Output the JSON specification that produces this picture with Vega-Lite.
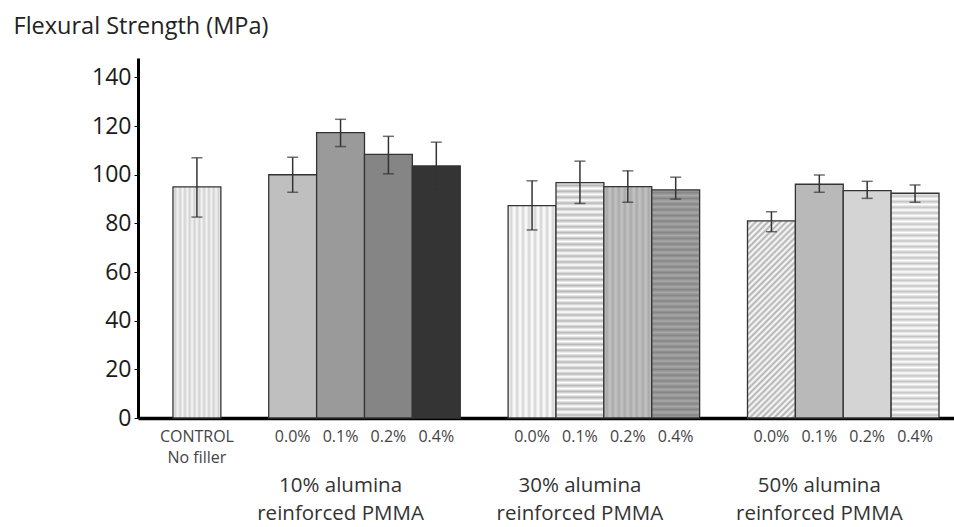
{
  "$schema": "https://vega.github.io/schema/vega-lite/v6.json",
  "autosize": "none",
  "width": 816,
  "height": 360,
  "padding": {"left": 138, "top": 58, "right": 0, "bottom": 109},
  "background": "#ffffff",
  "config": {
    "view": {"stroke": null},
    "font": "Open Sans",
    "axis": {"grid": false}
  },
  "data": {
    "values": [
      {"slot": "C|CONTROL", "mean": 95, "lo": 82.6, "hi": 107},
      {"slot": "10|0.0%", "mean": 100, "lo": 92.8, "hi": 107.2},
      {"slot": "10|0.1%", "mean": 117.3, "lo": 111.6, "hi": 122.8},
      {"slot": "10|0.2%", "mean": 108.4, "lo": 100.4, "hi": 115.8},
      {"slot": "10|0.4%", "mean": 103.6, "lo": 93.8, "hi": 113.4},
      {"slot": "30|0.0%", "mean": 87.3, "lo": 77.3, "hi": 97.5},
      {"slot": "30|0.1%", "mean": 96.8, "lo": 88.2, "hi": 105.6},
      {"slot": "30|0.2%", "mean": 95.1, "lo": 88.7, "hi": 101.6},
      {"slot": "30|0.4%", "mean": 93.8, "lo": 90, "hi": 99},
      {"slot": "50|0.0%", "mean": 81, "lo": 76.6, "hi": 84.8},
      {"slot": "50|0.1%", "mean": 96.1, "lo": 92.8, "hi": 99.9},
      {"slot": "50|0.2%", "mean": 93.5, "lo": 90.3, "hi": 97.3},
      {"slot": "50|0.4%", "mean": 92.4, "lo": 88.7, "hi": 95.8}
    ]
  },
  "resolve": {"axis": {"x": "independent"}},
  "layer": [
    {
      "mark": {"type": "bar", "stroke": "#333333", "strokeWidth": 1.3},
      "encoding": {
        "x": {
          "field": "slot", "type": "nominal", "title": null,
          "scale": {
            "domain": ["C|CONTROL", "S1|", "10|0.0%", "10|0.1%", "10|0.2%", "10|0.4%", "S2|", "30|0.0%", "30|0.1%", "30|0.2%", "30|0.4%", "S3|", "50|0.0%", "50|0.1%", "50|0.2%", "50|0.4%"],
            "paddingInner": 0, "paddingOuter": 0.522, "align": 0.7
          },
          "axis": {
            "orient": "bottom",
            "labelExpr": "datum.value == 'C|CONTROL' ? ['CONTROL', 'No filler'] : split(datum.value, '|')[1]",
            "labelAngle": 0, "labelFontSize": 16, "labelColor": "#444444", "labelPadding": 10,
            "labelBaseline": "top", "labelLineHeight": 21, "labelOverlap": false, "labelBound": false,
            "ticks": false, "tickSize": 0, "domainColor": "#000000", "domainWidth": 3.5
          }
        },
        "y": {
          "field": "mean", "type": "quantitative", "title": "Flexural Strength (MPa)",
          "scale": {"domain": [0, 148], "nice": false},
          "axis": {
            "values": [0, 20, 40, 60, 80, 100, 120, 140],
            "labelFontSize": 23, "labelColor": "#1a1a1a", "labelPadding": 3,
            "tickSize": 4, "tickColor": "#000000", "tickWidth": 1,
            "domainColor": "#000000", "domainWidth": 3,
            "titleAngle": 0, "titleAlign": "left", "titleBaseline": "middle",
            "titleX": -125, "titleY": -32, "titleFontSize": 23.5, "titleFontWeight": "normal", "titleColor": "#222222"
          }
        },
        "fill": {
          "condition": [
            {"test": "datum.slot == 'C|CONTROL'", "value": {"gradient": "linear", "x1": 0, "y1": 0, "x2": 1, "y2": 0, "stops": [
              {"offset": 0, "color": "#f4f4f4"}, {"offset": 0.05, "color": "#d2d2d2"}, {"offset": 0.1, "color": "#f4f4f4"}, {"offset": 0.15, "color": "#d2d2d2"}, {"offset": 0.2, "color": "#f4f4f4"}, {"offset": 0.25, "color": "#d2d2d2"}, {"offset": 0.3, "color": "#f4f4f4"}, {"offset": 0.35, "color": "#d2d2d2"}, {"offset": 0.4, "color": "#f4f4f4"}, {"offset": 0.45, "color": "#d2d2d2"}, {"offset": 0.5, "color": "#f4f4f4"}, {"offset": 0.55, "color": "#d2d2d2"}, {"offset": 0.6, "color": "#f4f4f4"}, {"offset": 0.65, "color": "#d2d2d2"}, {"offset": 0.7, "color": "#f4f4f4"}, {"offset": 0.75, "color": "#d2d2d2"}, {"offset": 0.8, "color": "#f4f4f4"}, {"offset": 0.85, "color": "#d2d2d2"}, {"offset": 0.9, "color": "#f4f4f4"}, {"offset": 0.95, "color": "#d2d2d2"}, {"offset": 1, "color": "#f4f4f4"}]}},
            {"test": "datum.slot == '10|0.0%'", "value": "#bfbfbf"},
            {"test": "datum.slot == '10|0.1%'", "value": "#9a9a9a"},
            {"test": "datum.slot == '10|0.2%'", "value": "#858585"},
            {"test": "datum.slot == '10|0.4%'", "value": "#343434"},
            {"test": "datum.slot == '30|0.0%'", "value": {"gradient": "linear", "x1": 0, "y1": 0, "x2": 1, "y2": 0, "stops": [
              {"offset": 0, "color": "#ffffff"}, {"offset": 0.0625, "color": "#d4d4d4"}, {"offset": 0.125, "color": "#ffffff"}, {"offset": 0.1875, "color": "#d4d4d4"}, {"offset": 0.25, "color": "#ffffff"}, {"offset": 0.3125, "color": "#d4d4d4"}, {"offset": 0.375, "color": "#ffffff"}, {"offset": 0.4375, "color": "#d4d4d4"}, {"offset": 0.5, "color": "#ffffff"}, {"offset": 0.5625, "color": "#d4d4d4"}, {"offset": 0.625, "color": "#ffffff"}, {"offset": 0.6875, "color": "#d4d4d4"}, {"offset": 0.75, "color": "#ffffff"}, {"offset": 0.8125, "color": "#d4d4d4"}, {"offset": 0.875, "color": "#ffffff"}, {"offset": 0.9375, "color": "#d4d4d4"}, {"offset": 1, "color": "#ffffff"}]}},
            {"test": "datum.slot == '30|0.1%'", "value": {"gradient": "linear", "x1": 0, "y1": 0, "x2": 0, "y2": 1, "stops": [
              {"offset":0,"color":"#ffffff"},{"offset":0.0125,"color":"#b8b8b8"},{"offset":0.025,"color":"#ffffff"},{"offset":0.0375,"color":"#b8b8b8"},{"offset":0.05,"color":"#ffffff"},{"offset":0.0625,"color":"#b8b8b8"},{"offset":0.075,"color":"#ffffff"},{"offset":0.0875,"color":"#b8b8b8"},{"offset":0.1,"color":"#ffffff"},{"offset":0.1125,"color":"#b8b8b8"},{"offset":0.125,"color":"#ffffff"},{"offset":0.1375,"color":"#b8b8b8"},{"offset":0.15,"color":"#ffffff"},{"offset":0.1625,"color":"#b8b8b8"},{"offset":0.175,"color":"#ffffff"},{"offset":0.1875,"color":"#b8b8b8"},{"offset":0.2,"color":"#ffffff"},{"offset":0.2125,"color":"#b8b8b8"},{"offset":0.225,"color":"#ffffff"},{"offset":0.2375,"color":"#b8b8b8"},{"offset":0.25,"color":"#ffffff"},{"offset":0.2625,"color":"#b8b8b8"},{"offset":0.275,"color":"#ffffff"},{"offset":0.2875,"color":"#b8b8b8"},{"offset":0.3,"color":"#ffffff"},{"offset":0.3125,"color":"#b8b8b8"},{"offset":0.325,"color":"#ffffff"},{"offset":0.3375,"color":"#b8b8b8"},{"offset":0.35,"color":"#ffffff"},{"offset":0.3625,"color":"#b8b8b8"},{"offset":0.375,"color":"#ffffff"},{"offset":0.3875,"color":"#b8b8b8"},{"offset":0.4,"color":"#ffffff"},{"offset":0.4125,"color":"#b8b8b8"},{"offset":0.425,"color":"#ffffff"},{"offset":0.4375,"color":"#b8b8b8"},{"offset":0.45,"color":"#ffffff"},{"offset":0.4625,"color":"#b8b8b8"},{"offset":0.475,"color":"#ffffff"},{"offset":0.4875,"color":"#b8b8b8"},{"offset":0.5,"color":"#ffffff"},{"offset":0.5125,"color":"#b8b8b8"},{"offset":0.525,"color":"#ffffff"},{"offset":0.5375,"color":"#b8b8b8"},{"offset":0.55,"color":"#ffffff"},{"offset":0.5625,"color":"#b8b8b8"},{"offset":0.575,"color":"#ffffff"},{"offset":0.5875,"color":"#b8b8b8"},{"offset":0.6,"color":"#ffffff"},{"offset":0.6125,"color":"#b8b8b8"},{"offset":0.625,"color":"#ffffff"},{"offset":0.6375,"color":"#b8b8b8"},{"offset":0.65,"color":"#ffffff"},{"offset":0.6625,"color":"#b8b8b8"},{"offset":0.675,"color":"#ffffff"},{"offset":0.6875,"color":"#b8b8b8"},{"offset":0.7,"color":"#ffffff"},{"offset":0.7125,"color":"#b8b8b8"},{"offset":0.725,"color":"#ffffff"},{"offset":0.7375,"color":"#b8b8b8"},{"offset":0.75,"color":"#ffffff"},{"offset":0.7625,"color":"#b8b8b8"},{"offset":0.775,"color":"#ffffff"},{"offset":0.7875,"color":"#b8b8b8"},{"offset":0.8,"color":"#ffffff"},{"offset":0.8125,"color":"#b8b8b8"},{"offset":0.825,"color":"#ffffff"},{"offset":0.8375,"color":"#b8b8b8"},{"offset":0.85,"color":"#ffffff"},{"offset":0.8625,"color":"#b8b8b8"},{"offset":0.875,"color":"#ffffff"},{"offset":0.8875,"color":"#b8b8b8"},{"offset":0.9,"color":"#ffffff"},{"offset":0.9125,"color":"#b8b8b8"},{"offset":0.925,"color":"#ffffff"},{"offset":0.9375,"color":"#b8b8b8"},{"offset":0.95,"color":"#ffffff"},{"offset":0.9625,"color":"#b8b8b8"},{"offset":0.975,"color":"#ffffff"},{"offset":0.9875,"color":"#b8b8b8"},{"offset":1,"color":"#ffffff"}]}},
            {"test": "datum.slot == '30|0.2%'", "value": {"gradient": "linear", "x1": 0, "y1": 0, "x2": 1, "y2": 0, "stops": [
              {"offset": 0, "color": "#c4c4c4"}, {"offset": 0.0625, "color": "#a9a9a9"}, {"offset": 0.125, "color": "#c4c4c4"}, {"offset": 0.1875, "color": "#a9a9a9"}, {"offset": 0.25, "color": "#c4c4c4"}, {"offset": 0.3125, "color": "#a9a9a9"}, {"offset": 0.375, "color": "#c4c4c4"}, {"offset": 0.4375, "color": "#a9a9a9"}, {"offset": 0.5, "color": "#c4c4c4"}, {"offset": 0.5625, "color": "#a9a9a9"}, {"offset": 0.625, "color": "#c4c4c4"}, {"offset": 0.6875, "color": "#a9a9a9"}, {"offset": 0.75, "color": "#c4c4c4"}, {"offset": 0.8125, "color": "#a9a9a9"}, {"offset": 0.875, "color": "#c4c4c4"}, {"offset": 0.9375, "color": "#a9a9a9"}, {"offset": 1, "color": "#c4c4c4"}]}},
            {"test": "datum.slot == '30|0.4%'", "value": {"gradient": "linear", "x1": 0, "y1": 0, "x2": 0, "y2": 1, "stops": [
              {"offset":0,"color":"#a8a8a8"},{"offset":0.0125,"color":"#858585"},{"offset":0.025,"color":"#a8a8a8"},{"offset":0.0375,"color":"#858585"},{"offset":0.05,"color":"#a8a8a8"},{"offset":0.0625,"color":"#858585"},{"offset":0.075,"color":"#a8a8a8"},{"offset":0.0875,"color":"#858585"},{"offset":0.1,"color":"#a8a8a8"},{"offset":0.1125,"color":"#858585"},{"offset":0.125,"color":"#a8a8a8"},{"offset":0.1375,"color":"#858585"},{"offset":0.15,"color":"#a8a8a8"},{"offset":0.1625,"color":"#858585"},{"offset":0.175,"color":"#a8a8a8"},{"offset":0.1875,"color":"#858585"},{"offset":0.2,"color":"#a8a8a8"},{"offset":0.2125,"color":"#858585"},{"offset":0.225,"color":"#a8a8a8"},{"offset":0.2375,"color":"#858585"},{"offset":0.25,"color":"#a8a8a8"},{"offset":0.2625,"color":"#858585"},{"offset":0.275,"color":"#a8a8a8"},{"offset":0.2875,"color":"#858585"},{"offset":0.3,"color":"#a8a8a8"},{"offset":0.3125,"color":"#858585"},{"offset":0.325,"color":"#a8a8a8"},{"offset":0.3375,"color":"#858585"},{"offset":0.35,"color":"#a8a8a8"},{"offset":0.3625,"color":"#858585"},{"offset":0.375,"color":"#a8a8a8"},{"offset":0.3875,"color":"#858585"},{"offset":0.4,"color":"#a8a8a8"},{"offset":0.4125,"color":"#858585"},{"offset":0.425,"color":"#a8a8a8"},{"offset":0.4375,"color":"#858585"},{"offset":0.45,"color":"#a8a8a8"},{"offset":0.4625,"color":"#858585"},{"offset":0.475,"color":"#a8a8a8"},{"offset":0.4875,"color":"#858585"},{"offset":0.5,"color":"#a8a8a8"},{"offset":0.5125,"color":"#858585"},{"offset":0.525,"color":"#a8a8a8"},{"offset":0.5375,"color":"#858585"},{"offset":0.55,"color":"#a8a8a8"},{"offset":0.5625,"color":"#858585"},{"offset":0.575,"color":"#a8a8a8"},{"offset":0.5875,"color":"#858585"},{"offset":0.6,"color":"#a8a8a8"},{"offset":0.6125,"color":"#858585"},{"offset":0.625,"color":"#a8a8a8"},{"offset":0.6375,"color":"#858585"},{"offset":0.65,"color":"#a8a8a8"},{"offset":0.6625,"color":"#858585"},{"offset":0.675,"color":"#a8a8a8"},{"offset":0.6875,"color":"#858585"},{"offset":0.7,"color":"#a8a8a8"},{"offset":0.7125,"color":"#858585"},{"offset":0.725,"color":"#a8a8a8"},{"offset":0.7375,"color":"#858585"},{"offset":0.75,"color":"#a8a8a8"},{"offset":0.7625,"color":"#858585"},{"offset":0.775,"color":"#a8a8a8"},{"offset":0.7875,"color":"#858585"},{"offset":0.8,"color":"#a8a8a8"},{"offset":0.8125,"color":"#858585"},{"offset":0.825,"color":"#a8a8a8"},{"offset":0.8375,"color":"#858585"},{"offset":0.85,"color":"#a8a8a8"},{"offset":0.8625,"color":"#858585"},{"offset":0.875,"color":"#a8a8a8"},{"offset":0.8875,"color":"#858585"},{"offset":0.9,"color":"#a8a8a8"},{"offset":0.9125,"color":"#858585"},{"offset":0.925,"color":"#a8a8a8"},{"offset":0.9375,"color":"#858585"},{"offset":0.95,"color":"#a8a8a8"},{"offset":0.9625,"color":"#858585"},{"offset":0.975,"color":"#a8a8a8"},{"offset":0.9875,"color":"#858585"},{"offset":1,"color":"#a8a8a8"}]}},
            {"test": "datum.slot == '50|0.0%'", "value": {"gradient": "linear", "x1": 0, "y1": 0, "x2": 0.2854, "y2": 1.1738, "stops": [
              {"offset":0,"color":"#ffffff"},{"offset":0.0125,"color":"#b0b0b0"},{"offset":0.025,"color":"#ffffff"},{"offset":0.0375,"color":"#b0b0b0"},{"offset":0.05,"color":"#ffffff"},{"offset":0.0625,"color":"#b0b0b0"},{"offset":0.075,"color":"#ffffff"},{"offset":0.0875,"color":"#b0b0b0"},{"offset":0.1,"color":"#ffffff"},{"offset":0.1125,"color":"#b0b0b0"},{"offset":0.125,"color":"#ffffff"},{"offset":0.1375,"color":"#b0b0b0"},{"offset":0.15,"color":"#ffffff"},{"offset":0.1625,"color":"#b0b0b0"},{"offset":0.175,"color":"#ffffff"},{"offset":0.1875,"color":"#b0b0b0"},{"offset":0.2,"color":"#ffffff"},{"offset":0.2125,"color":"#b0b0b0"},{"offset":0.225,"color":"#ffffff"},{"offset":0.2375,"color":"#b0b0b0"},{"offset":0.25,"color":"#ffffff"},{"offset":0.2625,"color":"#b0b0b0"},{"offset":0.275,"color":"#ffffff"},{"offset":0.2875,"color":"#b0b0b0"},{"offset":0.3,"color":"#ffffff"},{"offset":0.3125,"color":"#b0b0b0"},{"offset":0.325,"color":"#ffffff"},{"offset":0.3375,"color":"#b0b0b0"},{"offset":0.35,"color":"#ffffff"},{"offset":0.3625,"color":"#b0b0b0"},{"offset":0.375,"color":"#ffffff"},{"offset":0.3875,"color":"#b0b0b0"},{"offset":0.4,"color":"#ffffff"},{"offset":0.4125,"color":"#b0b0b0"},{"offset":0.425,"color":"#ffffff"},{"offset":0.4375,"color":"#b0b0b0"},{"offset":0.45,"color":"#ffffff"},{"offset":0.4625,"color":"#b0b0b0"},{"offset":0.475,"color":"#ffffff"},{"offset":0.4875,"color":"#b0b0b0"},{"offset":0.5,"color":"#ffffff"},{"offset":0.5125,"color":"#b0b0b0"},{"offset":0.525,"color":"#ffffff"},{"offset":0.5375,"color":"#b0b0b0"},{"offset":0.55,"color":"#ffffff"},{"offset":0.5625,"color":"#b0b0b0"},{"offset":0.575,"color":"#ffffff"},{"offset":0.5875,"color":"#b0b0b0"},{"offset":0.6,"color":"#ffffff"},{"offset":0.6125,"color":"#b0b0b0"},{"offset":0.625,"color":"#ffffff"},{"offset":0.6375,"color":"#b0b0b0"},{"offset":0.65,"color":"#ffffff"},{"offset":0.6625,"color":"#b0b0b0"},{"offset":0.675,"color":"#ffffff"},{"offset":0.6875,"color":"#b0b0b0"},{"offset":0.7,"color":"#ffffff"},{"offset":0.7125,"color":"#b0b0b0"},{"offset":0.725,"color":"#ffffff"},{"offset":0.7375,"color":"#b0b0b0"},{"offset":0.75,"color":"#ffffff"},{"offset":0.7625,"color":"#b0b0b0"},{"offset":0.775,"color":"#ffffff"},{"offset":0.7875,"color":"#b0b0b0"},{"offset":0.8,"color":"#ffffff"},{"offset":0.8125,"color":"#b0b0b0"},{"offset":0.825,"color":"#ffffff"},{"offset":0.8375,"color":"#b0b0b0"},{"offset":0.85,"color":"#ffffff"},{"offset":0.8625,"color":"#b0b0b0"},{"offset":0.875,"color":"#ffffff"},{"offset":0.8875,"color":"#b0b0b0"},{"offset":0.9,"color":"#ffffff"},{"offset":0.9125,"color":"#b0b0b0"},{"offset":0.925,"color":"#ffffff"},{"offset":0.9375,"color":"#b0b0b0"},{"offset":0.95,"color":"#ffffff"},{"offset":0.9625,"color":"#b0b0b0"},{"offset":0.975,"color":"#ffffff"},{"offset":0.9875,"color":"#b0b0b0"},{"offset":1,"color":"#ffffff"}]}},
            {"test": "datum.slot == '50|0.1%'", "value": "#b9b9b9"},
            {"test": "datum.slot == '50|0.2%'", "value": "#d4d4d4"},
            {"test": "datum.slot == '50|0.4%'", "value": {"gradient": "linear", "x1": 0, "y1": 0, "x2": 0, "y2": 1, "stops": [
              {"offset":0,"color":"#ffffff"},{"offset":0.0125,"color":"#c4c4c4"},{"offset":0.025,"color":"#ffffff"},{"offset":0.0375,"color":"#c4c4c4"},{"offset":0.05,"color":"#ffffff"},{"offset":0.0625,"color":"#c4c4c4"},{"offset":0.075,"color":"#ffffff"},{"offset":0.0875,"color":"#c4c4c4"},{"offset":0.1,"color":"#ffffff"},{"offset":0.1125,"color":"#c4c4c4"},{"offset":0.125,"color":"#ffffff"},{"offset":0.1375,"color":"#c4c4c4"},{"offset":0.15,"color":"#ffffff"},{"offset":0.1625,"color":"#c4c4c4"},{"offset":0.175,"color":"#ffffff"},{"offset":0.1875,"color":"#c4c4c4"},{"offset":0.2,"color":"#ffffff"},{"offset":0.2125,"color":"#c4c4c4"},{"offset":0.225,"color":"#ffffff"},{"offset":0.2375,"color":"#c4c4c4"},{"offset":0.25,"color":"#ffffff"},{"offset":0.2625,"color":"#c4c4c4"},{"offset":0.275,"color":"#ffffff"},{"offset":0.2875,"color":"#c4c4c4"},{"offset":0.3,"color":"#ffffff"},{"offset":0.3125,"color":"#c4c4c4"},{"offset":0.325,"color":"#ffffff"},{"offset":0.3375,"color":"#c4c4c4"},{"offset":0.35,"color":"#ffffff"},{"offset":0.3625,"color":"#c4c4c4"},{"offset":0.375,"color":"#ffffff"},{"offset":0.3875,"color":"#c4c4c4"},{"offset":0.4,"color":"#ffffff"},{"offset":0.4125,"color":"#c4c4c4"},{"offset":0.425,"color":"#ffffff"},{"offset":0.4375,"color":"#c4c4c4"},{"offset":0.45,"color":"#ffffff"},{"offset":0.4625,"color":"#c4c4c4"},{"offset":0.475,"color":"#ffffff"},{"offset":0.4875,"color":"#c4c4c4"},{"offset":0.5,"color":"#ffffff"},{"offset":0.5125,"color":"#c4c4c4"},{"offset":0.525,"color":"#ffffff"},{"offset":0.5375,"color":"#c4c4c4"},{"offset":0.55,"color":"#ffffff"},{"offset":0.5625,"color":"#c4c4c4"},{"offset":0.575,"color":"#ffffff"},{"offset":0.5875,"color":"#c4c4c4"},{"offset":0.6,"color":"#ffffff"},{"offset":0.6125,"color":"#c4c4c4"},{"offset":0.625,"color":"#ffffff"},{"offset":0.6375,"color":"#c4c4c4"},{"offset":0.65,"color":"#ffffff"},{"offset":0.6625,"color":"#c4c4c4"},{"offset":0.675,"color":"#ffffff"},{"offset":0.6875,"color":"#c4c4c4"},{"offset":0.7,"color":"#ffffff"},{"offset":0.7125,"color":"#c4c4c4"},{"offset":0.725,"color":"#ffffff"},{"offset":0.7375,"color":"#c4c4c4"},{"offset":0.75,"color":"#ffffff"},{"offset":0.7625,"color":"#c4c4c4"},{"offset":0.775,"color":"#ffffff"},{"offset":0.7875,"color":"#c4c4c4"},{"offset":0.8,"color":"#ffffff"},{"offset":0.8125,"color":"#c4c4c4"},{"offset":0.825,"color":"#ffffff"},{"offset":0.8375,"color":"#c4c4c4"},{"offset":0.85,"color":"#ffffff"},{"offset":0.8625,"color":"#c4c4c4"},{"offset":0.875,"color":"#ffffff"},{"offset":0.8875,"color":"#c4c4c4"},{"offset":0.9,"color":"#ffffff"},{"offset":0.9125,"color":"#c4c4c4"},{"offset":0.925,"color":"#ffffff"},{"offset":0.9375,"color":"#c4c4c4"},{"offset":0.95,"color":"#ffffff"},{"offset":0.9625,"color":"#c4c4c4"},{"offset":0.975,"color":"#ffffff"},{"offset":0.9875,"color":"#c4c4c4"},{"offset":1,"color":"#ffffff"}]}}
          ],
          "value": "#dddddd"
        }
      }
    },
    {
      "mark": {"type": "rule", "color": "#333333", "strokeWidth": 1.5},
      "encoding": {
        "x": {
          "field": "slot", "type": "nominal", "title": null,
          "axis": {
            "orient": "bottom", "bandPosition": 1,
            "labelExpr": "datum.value == '10|0.1%' ? ['10% alumina', 'reinforced PMMA'] : datum.value == '30|0.1%' ? ['30% alumina', 'reinforced PMMA'] : datum.value == '50|0.1%' ? ['50% alumina', 'reinforced PMMA'] : ''",
            "labelAngle": 0, "labelFontSize": 20.5, "labelColor": "#333333", "labelPadding": 57,
            "labelBaseline": "top", "labelLineHeight": 28, "labelOverlap": false, "labelBound": false,
            "ticks": false, "tickSize": 0, "domain": false
          }
        },
        "y": {"field": "lo", "type": "quantitative", "title": "Flexural Strength (MPa)"},
        "y2": {"field": "hi"}
      }
    },
    {
      "mark": {"type": "tick", "color": "#333333", "thickness": 1.5, "size": 11},
      "encoding": {
        "x": {"field": "slot", "type": "nominal", "axis": null},
        "y": {"field": "lo", "type": "quantitative", "title": "Flexural Strength (MPa)"}
      }
    },
    {
      "mark": {"type": "tick", "color": "#333333", "thickness": 1.5, "size": 11},
      "encoding": {
        "x": {"field": "slot", "type": "nominal", "axis": null},
        "y": {"field": "hi", "type": "quantitative", "title": "Flexural Strength (MPa)"}
      }
    }
  ]
}
